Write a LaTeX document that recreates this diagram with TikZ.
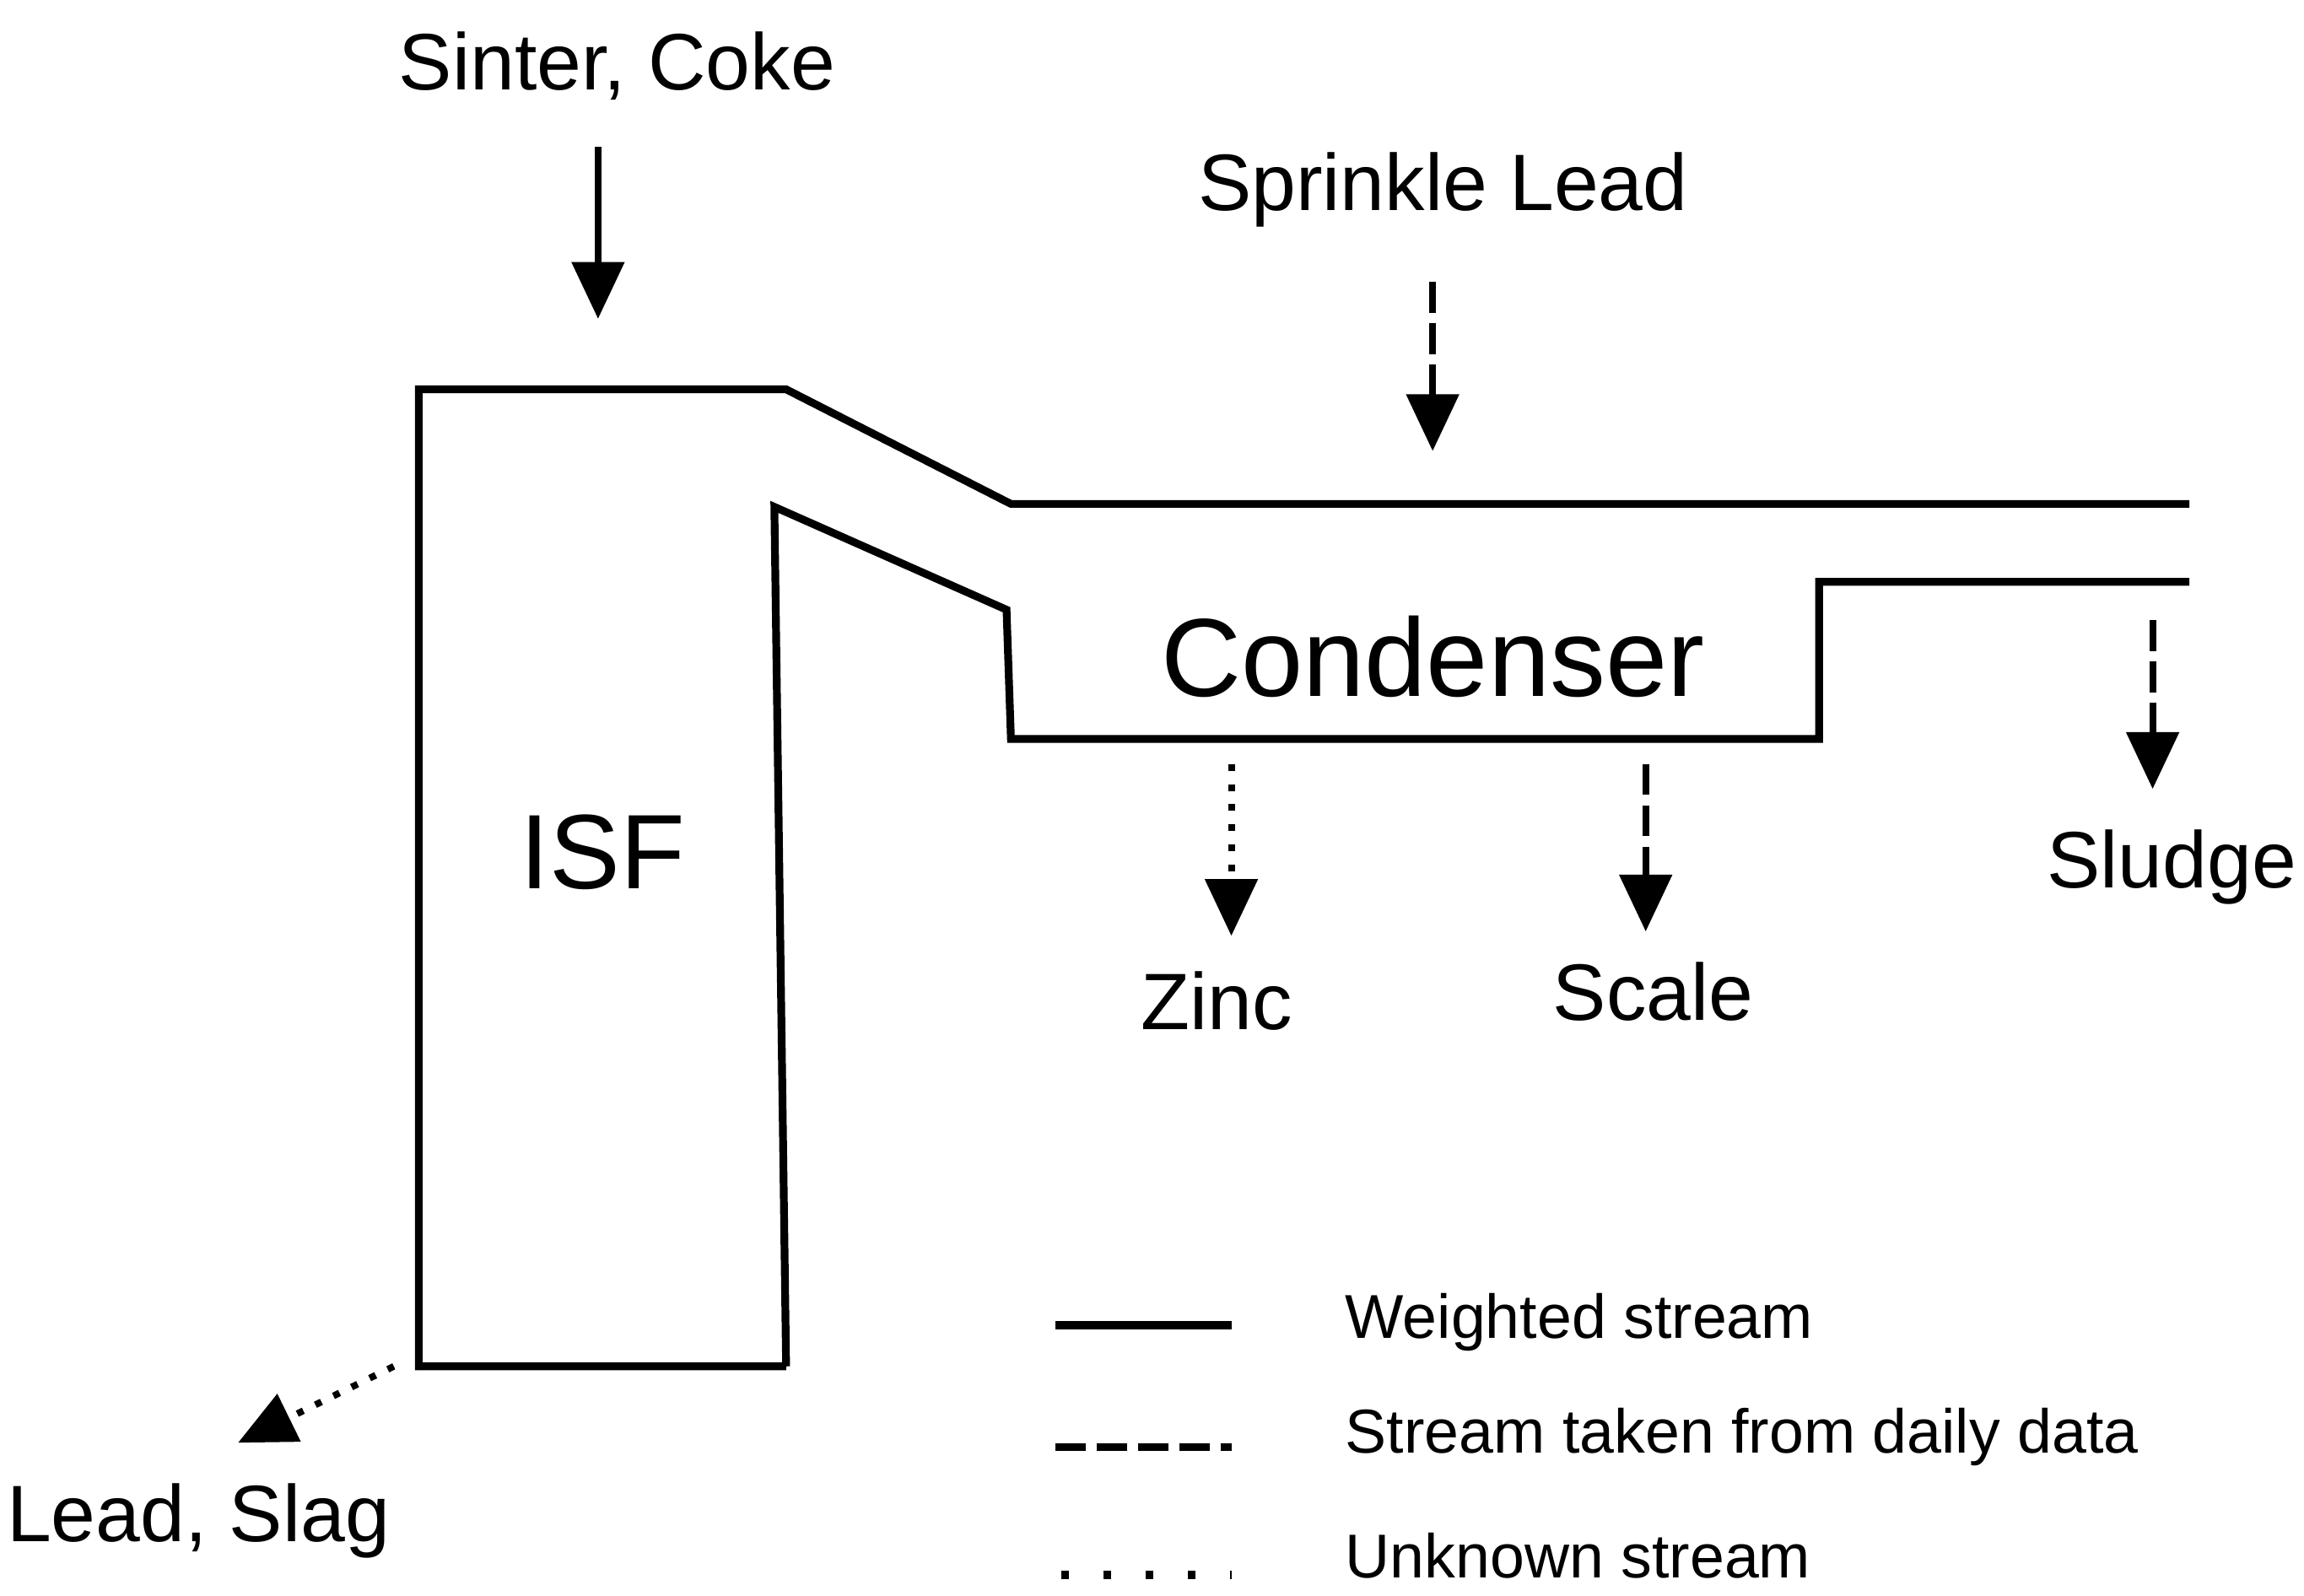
\documentclass[tikz,border=0pt]{standalone}
\usepackage{fontspec}
\setmainfont{Liberation Sans}
\usetikzlibrary{arrows.meta}
\begin{document}
\begin{tikzpicture}[x=0.01cm,y=-0.01cm,
  wall/.style={line width=1.5pt,line join=miter},
  arr/.style={line width=1.3pt,-{Triangle[width=10pt,length=11pt]}},
  dsh/.style={arr,dash pattern=on 6pt off 2pt},
  dot/.style={arr,dash pattern=on 1.3pt off 2.6pt},
  lbl/.style={font=\fontsize{15.5}{18}\selectfont,inner sep=0pt},
  leg/.style={font=\fontsize{12}{14}\selectfont,inner sep=0pt,anchor=west}]
\useasboundingbox (0,0) rectangle (1568,1086);
\draw[wall] (535,930) -- (285,930) -- (285,265) -- (535,265) -- (688,343) -- (1490,343);
\draw[wall] (535,930) -- (527,345) -- (685,415) -- (688,503) -- (1238,503) -- (1238,396) -- (1490,396);
\node[lbl] (sc) at (420,45) {Sinter, Coke};
\coordinate (sca) at (407,100); \coordinate (scb) at (407,217);
\draw[arr] (sca) -- (scb);
\node[lbl] (sp) at (982,129) {Sprinkle Lead};
\coordinate (spa) at (975,192); \coordinate (spb) at (975,307);
\draw[dsh] (spa) -- (spb);
\node[inner sep=0pt,font=\fontsize{21.5}{26}\selectfont] (cond) at (975,447) {Condenser};
\node[inner sep=0pt,font=\fontsize{20.5}{26}\selectfont] (isf) at (410,580) {ISF};
\coordinate (za) at (838,520); \coordinate (zb) at (838,637);
\draw[dot] (za) -- (zb);
\node[lbl] (zinc) at (828,681) {Zinc};
\coordinate (sa) at (1120,520); \coordinate (sb) at (1120,634);
\draw[dsh] (sa) -- (sb);
\node[lbl] (scale) at (1125,675) {Scale};
\coordinate (sla) at (1465,422); \coordinate (slb) at (1465,537);
\draw[dsh] (sla) -- (slb);
\node[lbl] (sludge) at (1478,590) {Sludge};
\coordinate (la) at (268,930); \coordinate (lb) at (162,982);
\draw[dot] (la) -- (lb);
\node[lbl] (lead) at (135,1035) {Lead, Slag};
\coordinate (l1a) at (718,902); \coordinate (l1b) at (838,902);
\draw[line width=1.5pt] (l1a) -- (l1b);
\node[leg] (t1) at (915,900) {Weighted stream};
\coordinate (l2a) at (718,985); \coordinate (l2b) at (838,985);
\draw[line width=1.5pt,dash pattern=on 6pt off 2pt] (l2a) -- (l2b);
\node[leg] (t2) at (915,978) {Stream taken from daily data};
\coordinate (l3a) at (722,1072); \coordinate (l3b) at (838,1072);
\draw[line width=1.5pt,dash pattern=on 1.5pt off 6.7pt] (l3a) -- (l3b);
\node[leg] (t3) at (915,1059) {Unknown stream};
\end{tikzpicture}
\end{document}
